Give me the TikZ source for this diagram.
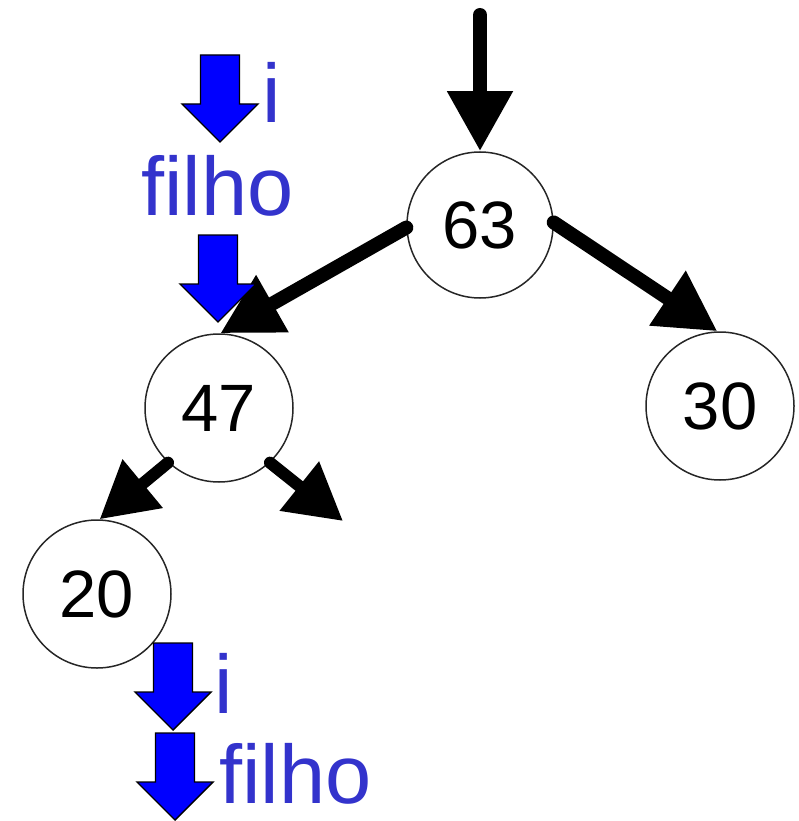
\documentclass[tikz,border=0pt]{standalone}
\usepackage{fontspec}
\setmainfont{Liberation Sans}
\usetikzlibrary{arrows.meta}
\definecolor{labelblue}{RGB}{51,51,204}
\definecolor{fillblue}{RGB}{0,0,255}
\begin{document}
\begin{tikzpicture}[x=1pt,y=-1pt,
  treenode/.style={circle,draw=black!85,line width=1.5pt,minimum size=#1,inner sep=0pt,
    font=\fontsize{67}{80}\selectfont},
  bigarrow/.style={line width=14pt,line cap=round,-{Triangle[length=60pt,width=62pt]}},
  smallarrow/.style={line width=12pt,line cap=round,-{Triangle[length=56pt,width=60pt]}},
  bluetext/.style={text=labelblue,anchor=base west,inner sep=0pt,font=\fontsize{83}{90}\selectfont},
  blockarrow/.pic={\draw[fill=fillblue,line width=1.4pt,line join=miter]
    (-19.5,-87) -- (19.5,-87) -- (19.5,-38) -- (38,-38) -- (0,0) -- (-38,-38) -- (-19.5,-38) -- cycle;}
]
\useasboundingbox (0,0) rectangle (798,821);

% tree nodes
\node[treenode=146pt] (n63) at (480,225) {63};
\node[treenode=148pt] (n47) at (219,408) {47};
\node[treenode=148pt] (n30) at (720,406) {30};
\node[treenode=148pt] (n20) at (97,594) {20};

\coordinate (top) at (480,15);
\coordinate (empty) at (343,521);

% connectors
\draw[bigarrow] (top) -- (n63.north);
\draw[bigarrow] (n63.182) -- (n47.89);
\draw[bigarrow] (n63.2) -- (n30.92);
\draw[smallarrow] (n47.227) -- (n20.88);
\draw[smallarrow] (n47.313) -- (empty);

% blue block arrows
\pic at (220,142) {blockarrow};
\pic at (218,322) {blockarrow};
\pic at (173,730) {blockarrow};
\pic at (175,820) {blockarrow};

% labels
\node[bluetext] (i1) at (262,123) {i};
\node[bluetext] (f1) at (141,215) {filho};
\node[bluetext] (i2) at (214,713) {i};
\node[bluetext] (f2) at (219,803) {filho};
\end{tikzpicture}
\end{document}
